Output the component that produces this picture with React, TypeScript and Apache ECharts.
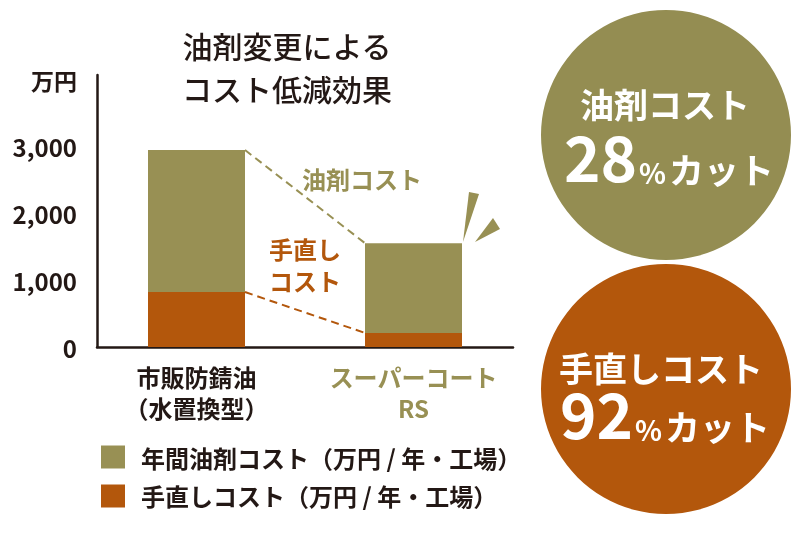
import React, { useEffect, useRef } from "react";
import * as echarts from "echarts";

// ---- data ----
const categories = ["市販防錆油\n（水置換型）", "スーパーコート\nRS"];
const seriesNames = ["年間油剤コスト（万円 / 年・工場）", "手直しコスト（万円 / 年・工場）"];
const oilCost = [2120, 1340]; // olive part (stacked on top)
const reworkCost = [820, 210]; // orange part (bottom)
const yTicks = [0, 1000, 2000, 3000];
const yTickLabels = ["0", "1,000", "2,000", "3,000"];
const yUnit = "万円";
const titleText = "油剤変更による\nコスト低減効果";
const oilNote = "油剤コスト";
const reworkNote = "手直し\nコスト";
const oilCut = { label: "油剤コスト", rate: "28" };
const reworkCut = { label: "手直しコスト", rate: "92" };

// ---- styles ----
const OLIVE = "#989054";
const ORANGE = "#b3570c";
const INK = "#231815";
const FONT = '"Noto Sans CJK JP", "Noto Sans", sans-serif';
const BAR_W = 97;
const Y_MAX = 4060;

export default function App() {
  const ref = useRef<HTMLDivElement>(null);
  useEffect(() => {
    if (!ref.current) return;
    const chart = echarts.init(ref.current, undefined, { renderer: "svg" });
    const totals = oilCost.map((v, i) => v + reworkCost[i]);
    const connectors = [
      [0, totals[0], 1, totals[1], 0],
      [0, reworkCost[0], 1, reworkCost[1], 1],
    ];
    const cutText = (x: number, y1: number, y2: number, c: { label: string; rate: string }) => [
      {
        type: "text",
        x,
        y: y1,
        style: {
          text: c.label,
          fill: "#fff",
          font: `bold 34px ${FONT}`,
          align: "center",
          verticalAlign: "middle",
        },
      },
      {
        type: "text",
        x: x + 4,
        y: y2,
        style: {
          text: `{n|${c.rate}}{p|%}{k|カット}`,
          fill: "#fff",
          align: "center",
          verticalAlign: "bottom",
          rich: {
            n: { fontSize: 62, fontWeight: "bold", fontFamily: FONT, fill: "#fff", lineHeight: 62, verticalAlign: "bottom" },
            p: { fontSize: 28, fontWeight: "bold", fontFamily: FONT, fill: "#fff", lineHeight: 28, verticalAlign: "bottom", padding: [0, 3, 0, 2] },
            k: { fontSize: 35, fontWeight: "bold", fontFamily: FONT, fill: "#fff", lineHeight: 35, verticalAlign: "bottom" },
          },
        },
      },
    ];
    const yLabel = {
      margin: 20,
      fontSize: 24,
      fontWeight: "bold",
      color: INK,
      fontFamily: FONT,
      showMaxLabel: false,
      formatter: (v: number) => {
        const i = yTicks.indexOf(v);
        return i >= 0 ? yTickLabels[i] : "";
      },
    };
    chart.setOption({
      animation: false,
      textStyle: { fontFamily: FONT },
      grid: [
        { left: 97, right: 287, top: 75, bottom: 188, containLabel: false },
        { left: 88, right: 278, top: 75, bottom: 188, containLabel: false },
      ],
      legend: {
        data: seriesNames,
        orient: "vertical",
        left: 96,
        top: 440,
        itemWidth: 24,
        itemHeight: 23,
        itemGap: 15,
        icon: "rect",
        selectedMode: false,
        textStyle: { fontSize: 24, fontWeight: "bold", color: INK, fontFamily: FONT, padding: [0, 0, 0, 11] },
      },
      xAxis: [
        {
          type: "category",
          gridIndex: 0,
          data: categories,
          axisLine: { lineStyle: { color: INK, width: 2.5 } },
          axisTick: { show: false },
          axisLabel: { show: false },
        },
        {
          type: "category",
          gridIndex: 1,
          data: categories,
          axisLine: { show: false },
          axisTick: { show: false },
          axisLabel: {
            margin: 14,
            interval: 0,
            formatter: (v: string, i: number) => (i === 0 ? `{a|${v}}` : `{b|${v}}`),
            rich: {
              a: { fontSize: 24, fontWeight: "bold", color: INK, lineHeight: 31, fontFamily: FONT },
              b: { fontSize: 24, fontWeight: "bold", color: OLIVE, lineHeight: 31, fontFamily: FONT },
            },
          },
        },
      ],
      yAxis: [
        {
          type: "value",
          gridIndex: 0,
          min: 0,
          max: Y_MAX,
          interval: 1000,
          axisLine: { show: true, lineStyle: { color: INK, width: 2.5 } },
          axisTick: { show: false },
          splitLine: { show: false },
          axisLabel: yLabel,
        },
        {
          type: "value",
          gridIndex: 1,
          min: 0,
          max: Y_MAX,
          interval: 1000,
          show: false,
          splitLine: { show: false },
        },
      ],
      series: [
        {
          name: seriesNames[1],
          type: "bar",
          xAxisIndex: 1,
          yAxisIndex: 1,
          stack: "cost",
          barWidth: BAR_W,
          itemStyle: { color: ORANGE },
          data: reworkCost,
        },
        {
          name: seriesNames[0],
          type: "bar",
          xAxisIndex: 1,
          yAxisIndex: 1,
          stack: "cost",
          barWidth: BAR_W,
          itemStyle: { color: OLIVE },
          data: oilCost,
        },
        {
          type: "custom",
          xAxisIndex: 1,
          yAxisIndex: 1,
          silent: true,
          data: connectors,
          renderItem: (_p: any, api: any) => {
            const a = api.coord([api.value(0), api.value(1)]);
            const b = api.coord([api.value(2), api.value(3)]);
            const color = api.value(4) === 0 ? OLIVE : ORANGE;
            return {
              type: "line",
              shape: { x1: a[0] + BAR_W / 2, y1: a[1], x2: b[0] - BAR_W / 2, y2: b[1] },
              style: { stroke: color, lineWidth: 2, lineDash: [8, 5] },
            };
          },
        },
      ],
      graphic: [
        {
          type: "text",
          x: 287,
          y: 23,
          style: { text: titleText, font: `500 30px ${FONT}`, fill: INK, align: "center", lineHeight: 43 },
        },
        {
          type: "text",
          x: 77,
          y: 80,
          style: { text: yUnit, font: `bold 23px ${FONT}`, fill: INK, align: "right", verticalAlign: "middle" },
        },
        {
          type: "text",
          x: 362,
          y: 178,
          style: { text: oilNote, font: `bold 24px ${FONT}`, fill: OLIVE, align: "center", verticalAlign: "middle" },
        },
        {
          type: "text",
          x: 305,
          y: 264,
          style: { text: reworkNote, font: `bold 24px ${FONT}`, fill: ORANGE, align: "center", verticalAlign: "middle", lineHeight: 32 },
        },
        { type: "polygon", shape: { points: [[463, 242], [469, 192], [479, 194]] }, style: { fill: OLIVE } },
        { type: "polygon", shape: { points: [[475, 242], [493, 218], [500, 229]] }, style: { fill: OLIVE } },
        { type: "circle", shape: { cx: 666, cy: 135, r: 125 }, style: { fill: "#948d52" } },
        { type: "circle", shape: { cx: 666, cy: 389, r: 125 }, style: { fill: ORANGE } },
        ...cutText(665, 103, 186, oilCut),
        ...cutText(661, 367, 443, reworkCut),
      ],
    });
    return () => chart.dispose();
  }, []);
  return <div ref={ref} style={{ position: "fixed", left: 0, top: 0, width: 800, height: 535 }} />;
}
